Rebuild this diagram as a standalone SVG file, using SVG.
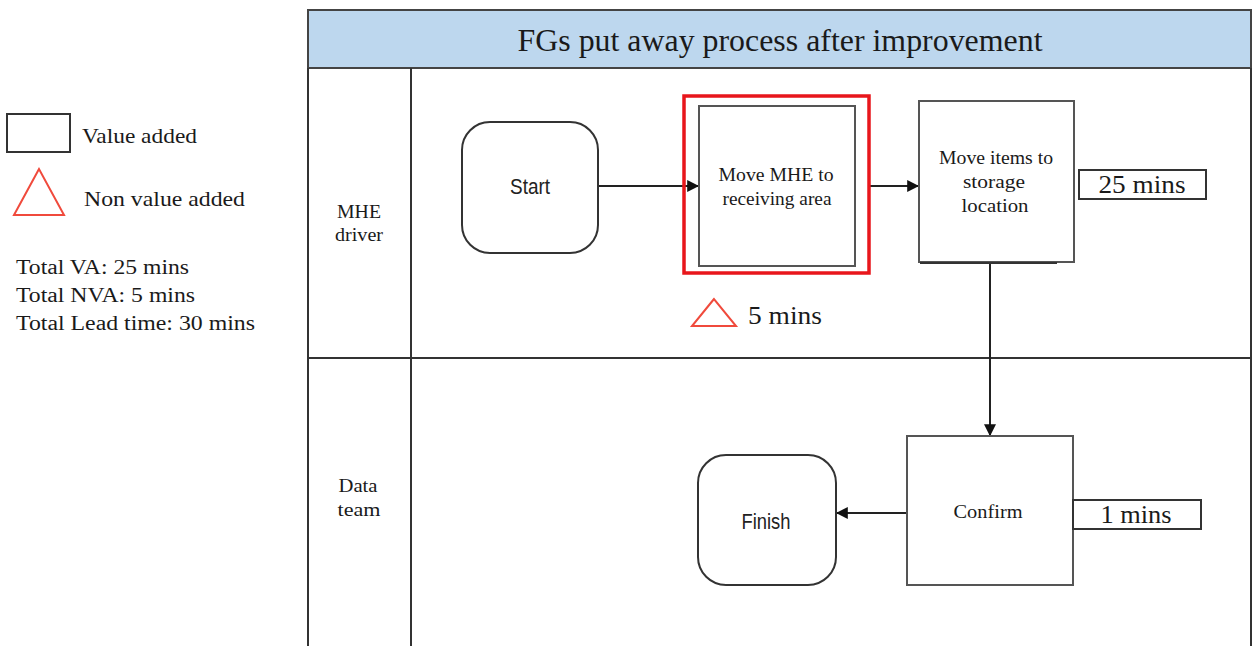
<svg xmlns="http://www.w3.org/2000/svg" width="1253" height="646" viewBox="0 0 1253 646">
<style>
.serif{font-family:"Liberation Serif","Times New Roman",serif;fill:#1a1a1a}
.sans{font-family:"Liberation Sans",Arial,sans-serif;fill:#222}
.box{fill:#fff;stroke:#555;stroke-width:2}
.line{fill:none;stroke:#222;stroke-width:2}
.tri{fill:none;stroke:#f04a3c;stroke-width:2}
</style>
<defs>
<marker id="arr" viewBox="0 0 10 10" refX="9" refY="5" markerWidth="6" markerHeight="6" orient="auto" markerUnits="strokeWidth">
<path d="M0,0 L10,5 L0,10 z" fill="#111"/>
</marker>
</defs>
<rect width="1253" height="646" fill="#fff"/>
<g id="legend">
<rect x="7" y="114" width="63" height="38" fill="#fff" stroke="#333" stroke-width="2"/>
<text class="serif" x="82" y="143" font-size="21" textLength="115" lengthAdjust="spacingAndGlyphs">Value added</text>
<polygon class="tri" points="39,169 14,215 64,215"/>
<text class="serif" x="84" y="206" font-size="21" textLength="161" lengthAdjust="spacingAndGlyphs">Non value added</text>
<text class="serif" x="16" y="274" font-size="20" textLength="173" lengthAdjust="spacingAndGlyphs">Total VA: 25 mins</text>
<text class="serif" x="16" y="302" font-size="20" textLength="179" lengthAdjust="spacingAndGlyphs">Total NVA: 5 mins</text>
<text class="serif" x="16" y="330" font-size="20" textLength="239" lengthAdjust="spacingAndGlyphs">Total Lead time: 30 mins</text>
</g>
<g id="swimlane">
<rect x="308" y="10" width="943" height="58" fill="#bdd7ee" stroke="#444" stroke-width="2"/>
<text class="serif" x="780" y="51" font-size="31" text-anchor="middle" textLength="525" lengthAdjust="spacingAndGlyphs">FGs put away process after improvement</text>
<path d="M308,68 V646 M1251,68 V646 M411,68 V646 M308,358 H1251" fill="none" stroke="#333" stroke-width="2"/>
<text class="serif" x="359" y="218" font-size="18" text-anchor="middle" textLength="44" lengthAdjust="spacingAndGlyphs">MHE</text>
<text class="serif" x="359" y="241" font-size="18" text-anchor="middle" textLength="48" lengthAdjust="spacingAndGlyphs">driver</text>
<text class="serif" x="358" y="492" font-size="18" text-anchor="middle" textLength="39" lengthAdjust="spacingAndGlyphs">Data</text>
<text class="serif" x="359" y="516" font-size="18" text-anchor="middle" textLength="43" lengthAdjust="spacingAndGlyphs">team</text>
</g>
<g id="connectors">
<line class="line" x1="598" y1="186" x2="698" y2="186" marker-end="url(#arr)"/>
<line class="line" x1="870" y1="186" x2="918" y2="186" marker-end="url(#arr)"/>
<line class="line" x1="990" y1="262" x2="990" y2="435" marker-end="url(#arr)"/>
<line class="line" x1="907" y1="513" x2="837" y2="513" marker-end="url(#arr)"/>
</g>
<g id="start">
<rect x="462" y="122" width="136" height="131" rx="28" fill="#fff" stroke="#333" stroke-width="2"/>
<text class="sans" x="530" y="194" font-size="22" text-anchor="middle" textLength="40" lengthAdjust="spacingAndGlyphs">Start</text>
</g>
<g id="move-mhe">
<rect x="684" y="96" width="185" height="177" fill="none" stroke="#e8161b" stroke-width="3.5"/>
<rect class="box" x="699" y="106" width="156" height="160"/>
<text class="serif" x="776" y="181" font-size="18" text-anchor="middle" textLength="115" lengthAdjust="spacingAndGlyphs">Move MHE to</text>
<text class="serif" x="777" y="205" font-size="18" text-anchor="middle" textLength="109" lengthAdjust="spacingAndGlyphs">receiving area</text>
<polygon class="tri" points="714,299 692,326 736,326"/>
<text class="serif" x="748" y="324" font-size="26" textLength="74" lengthAdjust="spacingAndGlyphs">5 mins</text>
</g>
<g id="move-items">
<rect class="box" x="919" y="101" width="155" height="161"/>
<line x1="920" y1="263" x2="1057" y2="263" stroke="#333" stroke-width="2"/>
<text class="serif" x="996" y="164" font-size="18" text-anchor="middle" textLength="114" lengthAdjust="spacingAndGlyphs">Move items to</text>
<text class="serif" x="994" y="188" font-size="18" text-anchor="middle" textLength="62" lengthAdjust="spacingAndGlyphs">storage</text>
<text class="serif" x="995" y="212" font-size="18" text-anchor="middle" textLength="67" lengthAdjust="spacingAndGlyphs">location</text>
<rect x="1079" y="170" width="127" height="29" fill="#fff" stroke="#333" stroke-width="2"/>
<text class="serif" x="1142" y="193" font-size="25" text-anchor="middle" textLength="87" lengthAdjust="spacingAndGlyphs">25 mins</text>
</g>
<g id="confirm">
<rect class="box" x="907" y="436" width="166" height="149"/>
<text class="serif" x="988" y="518" font-size="18" text-anchor="middle" textLength="69" lengthAdjust="spacingAndGlyphs">Confirm</text>
<rect x="1073" y="500" width="128" height="29" fill="#fff" stroke="#333" stroke-width="2"/>
<text class="serif" x="1136" y="523" font-size="25" text-anchor="middle" textLength="71" lengthAdjust="spacingAndGlyphs">1 mins</text>
</g>
<g id="finish">
<rect x="698" y="455" width="138" height="130" rx="28" fill="#fff" stroke="#333" stroke-width="2"/>
<text class="sans" x="766" y="529" font-size="22" text-anchor="middle" textLength="49" lengthAdjust="spacingAndGlyphs">Finish</text>
</g>
</svg>
